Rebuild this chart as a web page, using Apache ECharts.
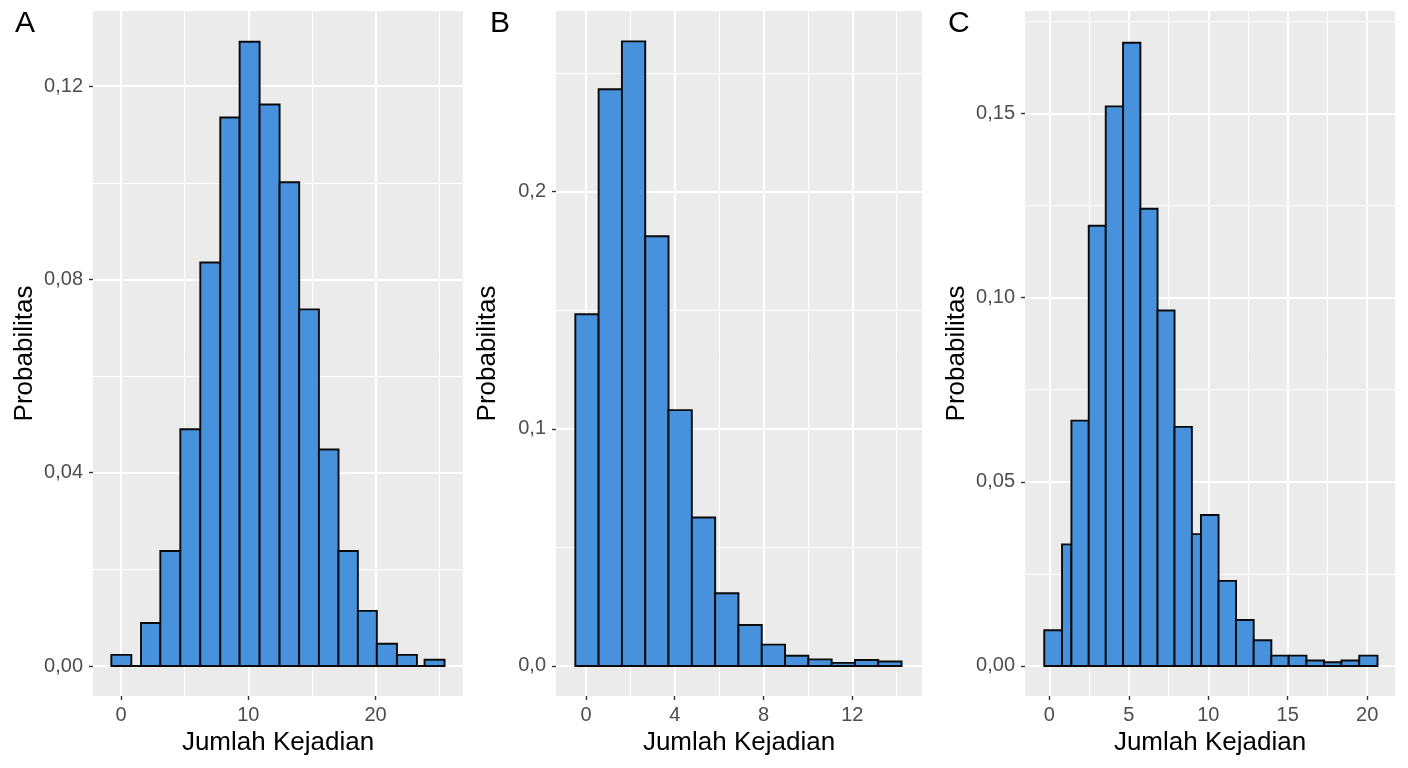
<!DOCTYPE html>
<html>
<head>
<meta charset="UTF-8">
<title>Distribusi Jumlah Kejadian</title>
<script src="https://cdn.jsdelivr.net/npm/echarts@6/dist/echarts.min.js"></script>
<style>
    html, body { margin: 0; padding: 0; background: #fff; }
    #main { width: 1408px; height: 768px; }
</style>
</head>
<body>
<div id="main"></div>
<script>
// --- data ---
var tags = ['A', 'B', 'C'];

// A: bin edges and probabilities (zero bins drawn flat like ggplot)
var aEdges = [-0.76, 0.81, 1.57, 3.09, 4.66, 6.23, 7.8, 9.32, 10.89, 12.46, 14.0, 15.55, 17.09, 18.61, 20.1, 21.68, 23.25, 23.85, 25.42];
var aProb  = [0.0023, 0, 0.0089, 0.0238, 0.049, 0.0835, 0.1135, 0.1292, 0.1162, 0.1001, 0.0738, 0.0448, 0.0238, 0.0114, 0.0046, 0.0023, 0, 0.0013];

// B
var bEdges = [-0.48, 0.57, 1.62, 2.67, 3.72, 4.77, 5.82, 6.87, 7.92, 8.97, 10.02, 11.07, 12.12, 13.17, 14.22];
var bProb  = [0.1483, 0.2432, 0.2634, 0.1812, 0.1079, 0.0626, 0.0307, 0.0173, 0.009, 0.0043, 0.0028, 0.0013, 0.0025, 0.0019];

// C
var cEdges = [-0.32, 0.8, 1.39, 2.48, 3.55, 4.64, 5.73, 6.81, 7.88, 8.97, 9.54, 10.65, 11.75, 12.86, 13.97, 15.06, 16.18, 17.29, 18.38, 19.5, 20.65];
var cProb  = [0.0097, 0.033, 0.0666, 0.1195, 0.1519, 0.1692, 0.1241, 0.0965, 0.0649, 0.0358, 0.041, 0.0231, 0.0125, 0.007, 0.0028, 0.0028, 0.0015, 0.001, 0.0015, 0.0028];

// tick values / labels
var aXTicks = [0, 10, 20],        aXMinor = [5, 15, 25];
var bXTicks = [0, 4, 8, 12],      bXMinor = [2, 6, 10, 14];
var cXTicks = [0, 5, 10, 15, 20], cXMinor = [2.5, 7.5, 12.5, 17.5];

var aYTicks = [0, 0.04, 0.08, 0.12],  aYLabels = ['0,00', '0,04', '0,08', '0,12'], aYMinor = [0.02, 0.06, 0.10];
var bYTicks = [0, 0.1, 0.2],          bYLabels = ['0,0', '0,1', '0,2'],           bYMinor = [0.05, 0.15, 0.25];
var cYTicks = [0, 0.05, 0.10, 0.15],  cYLabels = ['0,00', '0,05', '0,10', '0,15'], cYMinor = [0.025, 0.075, 0.125, 0.175];

var xTitle = 'Jumlah Kejadian';
var yTitle = 'Probabilitas';

// --- layout ---
var FONT = "'Liberation Sans', Arial, sans-serif";
var panels = [
    {edges: aEdges, prob: aProb, xt: aXTicks, xm: aXMinor, yt: aYTicks, yl: aYLabels, ym: aYMinor,
     left: 93, width: 370, xr: [-2.2, 26.87], yr: [-0.00621, 0.13555], tagX: 10},
    {edges: bEdges, prob: bProb, xt: bXTicks, xm: bXMinor, yt: bYTicks, yl: bYLabels, ym: bYMinor,
     left: 556, width: 366, xr: [-1.35, 15.14], yr: [-0.01266, 0.2762], tagX: 485},
    {edges: cEdges, prob: cProb, xt: cXTicks, xm: cXMinor, yt: cYTicks, yl: cYLabels, ym: cYMinor,
     left: 1025, width: 370, xr: [-1.53, 21.75], yr: [-0.00815, 0.1778], tagX: 943}
];

function renderBin(params, api) {
    var p0 = api.coord([api.value(0), api.value(2)]);
    var p1 = api.coord([api.value(1), 0]);
    return {
        type: 'rect',
        shape: {x: p0[0], y: p0[1], width: p1[0] - p0[0], height: p1[1] - p0[1]},
        style: {fill: '#4891DC', stroke: '#0a0a0a', lineWidth: 1.9}
    };
}

var grid = [], xAxis = [], yAxis = [], series = [], title = [];

panels.forEach(function (p, i) {
    grid.push({left: p.left, width: p.width, top: 11, bottom: 72, show: true,
               backgroundColor: '#EBEBEB', borderWidth: 0});

    // major x axis
    xAxis.push({
        type: 'value', gridIndex: i, min: p.xr[0], max: p.xr[1],
        axisLine: {show: false, onZero: false},
        axisTick: {show: true, length: 4, customValues: p.xt, lineStyle: {color: '#333', width: 1.4}},
        axisLabel: {customValues: p.xt, color: '#4D4D4D', fontSize: 20, fontFamily: FONT, margin: 9},
        splitLine: {show: true, lineStyle: {color: '#fff', width: 2}},
        name: xTitle, nameLocation: 'middle', nameGap: 34,
        nameTextStyle: {color: '#000', fontSize: 26, fontFamily: FONT}
    });
    // minor x grid
    xAxis.push({
        type: 'value', gridIndex: i, min: p.xr[0], max: p.xr[1],
        axisLine: {show: false, onZero: false}, axisLabel: {show: false},
        axisTick: {show: false, customValues: p.xm},
        splitLine: {show: true, lineStyle: {color: '#fff', width: 1}}
    });

    yAxis.push({
        type: 'value', gridIndex: i, min: p.yr[0], max: p.yr[1],
        axisLine: {show: false, onZero: false},
        axisTick: {show: true, length: 4, customValues: p.yt, lineStyle: {color: '#333', width: 1.4}},
        axisLabel: {
            customValues: p.yt, color: '#4D4D4D', fontSize: 20, fontFamily: FONT, margin: 10,
            formatter: function (v) {
                for (var k = 0; k < p.yt.length; k++) {
                    if (Math.abs(p.yt[k] - v) < 1e-9) return p.yl[k];
                }
                return '';
            }
        },
        splitLine: {show: true, lineStyle: {color: '#fff', width: 2}},
        name: yTitle, nameLocation: 'middle', nameGap: 55,
        nameTextStyle: {color: '#000', fontSize: 26, fontFamily: FONT}
    });
    yAxis.push({
        type: 'value', gridIndex: i, min: p.yr[0], max: p.yr[1],
        axisLine: {show: false, onZero: false}, axisLabel: {show: false},
        axisTick: {show: false, customValues: p.ym},
        splitLine: {show: true, lineStyle: {color: '#fff', width: 1}}
    });

    var data = [];
    for (var k = 0; k < p.prob.length; k++) {
        data.push([p.edges[k], p.edges[k + 1], p.prob[k]]);
    }
    series.push({
        type: 'custom', xAxisIndex: 2 * i, yAxisIndex: 2 * i,
        renderItem: renderBin, data: data, encode: {x: [0, 1], y: 2},
        silent: true, animation: false
    });

    title.push({text: tags[i], left: p.tagX, top: 4,
                textStyle: {color: '#000', fontSize: 30, fontWeight: 'normal', fontFamily: FONT}});
});

var chart = echarts.init(document.getElementById('main'));
chart.setOption({
    animation: false,
    backgroundColor: '#fff',
    title: title,
    grid: grid,
    xAxis: xAxis,
    yAxis: yAxis,
    series: series
});
</script>
</body>
</html>
